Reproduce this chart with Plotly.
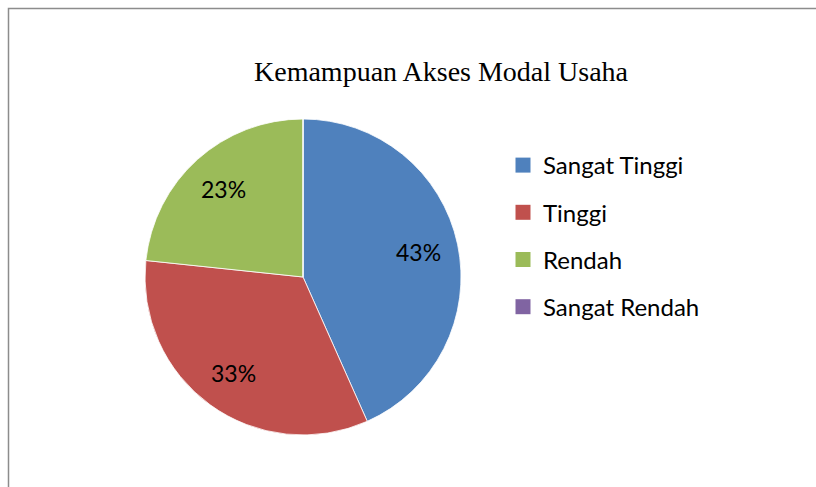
import math
import plotly.graph_objects as go

categories = ["Sangat Tinggi", "Tinggi", "Rendah", "Sangat Rendah"]
values = [13, 10, 7, 0]
colors = ["#4F81BD", "#C0504D", "#9BBB59", "#8064A2"]
title_text = "Kemampuan Akses Modal Usaha"

W, H = 816, 487
# pie box in pixels
PX0, PX1, PY0, PY1 = 145, 461, 119, 435

fig = go.Figure()
fig.add_trace(go.Pie(
    labels=categories,
    values=values,
    sort=False,
    direction="clockwise",
    rotation=0,
    marker=dict(colors=colors, line=dict(color="white", width=0.8)),
    textinfo="none",
    showlegend=False,
    hoverinfo="label+percent",
    domain=dict(x=[PX0 / W, PX1 / W], y=[1 - PY1 / H, 1 - PY0 / H]),
))

# legend entries built from the category list
for name, col in zip(categories, colors):
    fig.add_trace(go.Scatter(
        x=[None], y=[None], mode="markers", name=name,
        legendgroup=name,
        marker=dict(symbol="square", size=15, color=col),
    ))

# data labels placed at the middle angle of each slice
total = sum(values)
cx, cy, r = (PX0 + PX1) / 2, (PY0 + PY1) / 2, (PX1 - PX0) / 2
annotations = []
cum = 0
for name, v in zip(categories, values):
    if v > 0:
        mid = (cum + v / 2) / total * 2 * math.pi
        px = cx + 0.75 * r * math.sin(mid)
        py = cy - 0.75 * r * math.cos(mid)
        annotations.append(dict(
            text=f"{round(100 * v / total)}%", x=px / W, y=1 - py / H,
            xref="paper", yref="paper", xanchor="center", yanchor="middle",
            showarrow=False, font=dict(family="Lato", size=23, color="black"),
        ))
    cum += v

annotations.append(dict(
    text=title_text, x=442 / W, y=1 - 72 / H, xref="paper", yref="paper",
    xanchor="center", yanchor="middle", showarrow=False,
    font=dict(family="Liberation Serif", size=28, color="black"),
))

fig.update_layout(
    width=W, height=H,
    margin=dict(l=0, r=0, t=0, b=0),
    paper_bgcolor="white", plot_bgcolor="white",
    xaxis=dict(visible=False), yaxis=dict(visible=False),
    showlegend=True,
    legend=dict(
        x=503 / W, xanchor="left", y=1 - 143 / H, yanchor="top",
        font=dict(family="Lato", size=24, color="black"),
        tracegroupgap=13, itemwidth=30,
        bgcolor="rgba(0,0,0,0)",
    ),
    annotations=annotations,
    shapes=[dict(
        type="rect", xref="paper", yref="paper",
        x0=8.5 / W, x1=1.02, y0=-0.02, y1=1 - 8.5 / H,
        line=dict(color="#8c8c8c", width=1.5),
    )],
)

fig.write_html(
    "out.html",
    config={"displayModeBar": False},
    post_script="document.body.style.margin='0px';document.body.style.overflow='hidden';",
)
